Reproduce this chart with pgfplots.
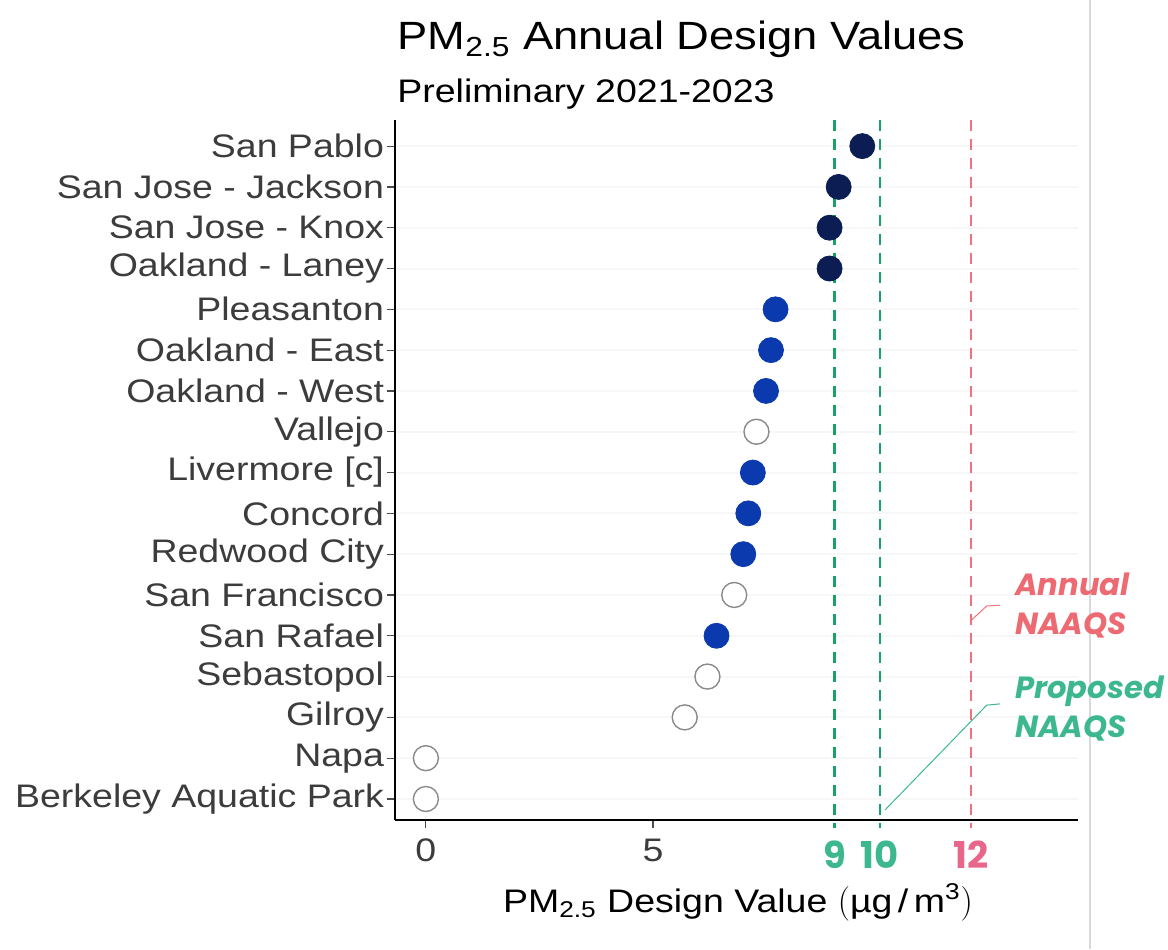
\documentclass[border=0pt]{standalone}
\usepackage{fontspec}
\setmainfont{Liberation Sans}[FakeStretch=1.15]
\newfontfamily\annfont{Poppins}
\usepackage{pgfplots}
\pgfplotsset{compat=1.18}

\definecolor{navy}{HTML}{0B1D52}
\definecolor{midblue}{HTML}{0A3AAE}
\definecolor{ringgray}{HTML}{8A8A8A}
\definecolor{labgray}{HTML}{3C3C3C}
\definecolor{lgreen}{HTML}{17A266}
\definecolor{tgreen}{HTML}{3DB88E}
\definecolor{lred}{HTML}{F0707E}
\definecolor{tred}{HTML}{EE6A72}
\definecolor{tpink}{HTML}{E8668A}

% design values (ug/m3), y = row from the bottom
\pgfplotstableread{
x y
9.61 17
9.09 16
8.89 15
8.89 14
}\toprow
\pgfplotstableread{
x y
7.70 13
7.60 12
7.49 11
7.20 9
7.10 8
6.99 7
6.40 5
}\midrow
\pgfplotstableread{
x y
7.28 10
6.79 6
6.20 4
5.70 3
0 2
0 1
}\openrow

\begin{document}
\begin{tikzpicture}
\useasboundingbox (0,0) rectangle (584pt,474.5pt);
\draw[gray!30, line width=0.6pt] (545pt,0) -- (545pt,474.5pt);

\node[anchor=base west, inner sep=0pt, font=\fontsize{19.7}{22}\selectfont]
  at (198.5pt,449.5pt) {PM\textsubscript{2.5} Annual Design Values};
\node[anchor=base west, inner sep=0pt, font=\fontsize{16.3}{19}\selectfont]
  at (198.5pt,423pt) {Preliminary 2021-2023};
\node[anchor=base, inner sep=0pt, font=\fontsize{16.3}{19}\selectfont]
  at (369pt,18.5pt) {PM\textsubscript{2.5} Design Value $\big($µg\,/\,m\textsuperscript{3}$\big)$};

\begin{axis}[
  at={(197.5pt,64.5pt)}, anchor=south west,
  scale only axis, width=341.5pt, height=350pt,
  xmin=-0.68, xmax=14.36, ymin=0.485, ymax=17.64,
  axis x line=bottom, axis y line=left,
  axis line style={-, black, line width=0.8pt},
  tick align=outside, major tick length=4pt,
  tick style={black!70, line width=0.6pt},
  xtick={0,5},
  xticklabels={0,5},
  xticklabel style={yshift=-2pt},
  extra x ticks={9,10,12},
  extra x tick labels={{\color{tgreen}9},{\color{tgreen}10},{\color{tpink}12}},
  extra x tick style={tick style={draw=none},
    ticklabel style={yshift=-1pt, font=\annfont\bfseries\fontsize{18.5}{20}\selectfont}},
  ytick={1,...,17},
  yticklabels={Berkeley Aquatic Park, Napa, Gilroy, Sebastopol, San Rafael,
    San Francisco, Redwood City, Concord, Livermore [c], Vallejo,
    Oakland - West, Oakland - East, Pleasanton, Oakland - Laney,
    San Jose - Knox, San Jose - Jackson, San Pablo},
  yticklabel style={xshift=2pt},
  ticklabel style={font=\fontsize{16.3}{19}\selectfont, text=labgray},
  ymajorgrids, major grid style={black!3, line width=1pt},
  clip=false,
]
\addplot[lgreen, line width=1.3pt, dash pattern=on 5.5pt off 4pt]
  coordinates {(9,17.64) (9,0.30)};
\addplot[lgreen, line width=1.3pt, dash pattern=on 5.5pt off 4pt]
  coordinates {(10,17.64) (10,0.30)};
\addplot[lred, line width=1.3pt, dash pattern=on 5.5pt off 4pt]
  coordinates {(12,17.64) (12,0.30)};

\addplot[only marks, mark=*, mark size=6.25pt, mark options={draw=navy, fill=navy}]
  table[x=x, y=y] {\toprow};
\addplot[only marks, mark=*, mark size=6.25pt, mark options={draw=midblue, fill=midblue}]
  table[x=x, y=y] {\midrow};
\addplot[only marks, mark=*, mark size=6.25pt,
  mark options={draw=ringgray, fill=white, line width=0.7pt}]
  table[x=x, y=y] {\openrow};

\draw[lred, line width=0.5pt] (axis cs:12.02,5.39) -- (axis cs:12.35,5.73) -- (axis cs:12.64,5.75);
\draw[tgreen, line width=0.5pt] (axis cs:10.11,0.73) -- (axis cs:12.35,3.30) -- (axis cs:12.64,3.33);

\node[anchor=west, inner sep=0pt, align=left, text=tred,
  font=\annfont\bfseries\itshape\fontsize{15.3}{19.5}\selectfont]
  at (axis cs:12.97,5.74) {Annual\\NAAQS};
\node[anchor=west, inner sep=0pt, align=left, text=tgreen,
  font=\annfont\bfseries\itshape\fontsize{15.3}{19.5}\selectfont]
  at (axis cs:12.97,3.22) {Proposed\\NAAQS};
\end{axis}
\end{tikzpicture}
\end{document}
